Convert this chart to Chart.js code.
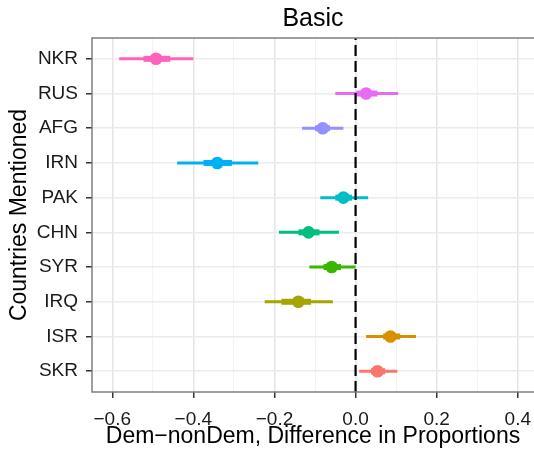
<!DOCTYPE html>
<html>
<head>
<meta charset="utf-8">
<title>Basic</title>
<script src="https://cdn.jsdelivr.net/npm/chart.js@4.4.1/dist/chart.umd.min.js"></script>
<style>
  html, body { margin: 0; padding: 0; overflow: hidden; background: #fff; }
  #wrap { width: 534px; height: 457px; }
</style>
</head>
<body>
<div id="wrap"><canvas id="chart" width="534" height="457"></canvas></div>
<script>
// countries from bottom (y = 1) to top (y = 10)
const countries = ['SKR', 'ISR', 'IRQ', 'SYR', 'CHN', 'PAK', 'IRN', 'AFG', 'RUS', 'NKR'];
const estimates = [0.054, 0.086, -0.141, -0.059, -0.116, -0.030, -0.341, -0.081, 0.026, -0.492];
const lower95 = [0.009, 0.026, -0.224, -0.114, -0.189, -0.087, -0.440, -0.132, -0.050, -0.583];
const upper95 = [0.103, 0.149, -0.056, 0.000, -0.041, 0.031, -0.240, -0.030, 0.105, -0.400];
const lowerInner = [0.038, 0.068, -0.183, -0.079, -0.141, -0.050, -0.375, -0.100, 0.002, -0.523];
const upperInner = [0.073, 0.110, -0.110, -0.036, -0.089, -0.009, -0.305, -0.063, 0.054, -0.457];
const colors = ['#F8766D', '#D89000', '#A3A500', '#39B600', '#00BF7D',
                '#00BFC4', '#00B0F6', '#9590FF', '#E76BF3', '#FF62BC'];

const xTicks = [-0.6, -0.4, -0.2, 0.0, 0.2, 0.4];
const xMinor = [-0.5, -0.3, -0.1, 0.1, 0.3];
const xMin = -0.65, xMax = 0.44;
const yMin = 0.4, yMax = 10.6;
const refLine = 0;

const FONT = "'Liberation Sans', Arial, sans-serif";
const fmt = v => (v < 0 ? '\u2212' : '') + Math.abs(v).toFixed(1);
const isMajor = v => xTicks.some(t => Math.abs(t - v) < 1e-9);

const datasets = [];

datasets.push({
  type: 'line',
  data: [{x: refLine, y: yMin}, {x: refLine, y: yMax}],
  borderColor: '#000',
  borderWidth: 2.2,
  borderDash: [11, 5],
  pointRadius: 0,
  order: 0
});

datasets.push({
  type: 'scatter',
  data: estimates.map((v, i) => ({x: v, y: i + 1})),
  pointRadius: 6.3,
  pointBackgroundColor: colors,
  pointBorderWidth: 0,
  order: 1
});

countries.forEach((c, i) => {
  datasets.push({
    type: 'line',
    data: [{x: lowerInner[i], y: i + 1}, {x: upperInner[i], y: i + 1}],
    borderColor: colors[i],
    borderWidth: 6,
    borderCapStyle: 'butt',
    pointRadius: 0,
    order: 2
  });
  datasets.push({
    type: 'line',
    data: [{x: lower95[i], y: i + 1}, {x: upper95[i], y: i + 1}],
    borderColor: colors[i],
    borderWidth: 3,
    borderCapStyle: 'butt',
    pointRadius: 0,
    order: 3
  });
});

// grey frame around the plotting panel (right side runs past the canvas)
const panelBorder = {
  id: 'panelBorder',
  afterDraw(chart) {
    const {ctx, chartArea: a} = chart;
    ctx.save();
    ctx.strokeStyle = '#7f7f7f';
    ctx.lineWidth = 1.5;
    ctx.beginPath();
    ctx.moveTo(a.right + 5, a.top);
    ctx.lineTo(a.left, a.top);
    ctx.lineTo(a.left, a.bottom);
    ctx.lineTo(a.right + 5, a.bottom);
    ctx.stroke();
    ctx.restore();
  }
};

new Chart(document.getElementById('chart'), {
  type: 'line',
  data: { datasets },
  plugins: [panelBorder],
  options: {
    responsive: false,
    animation: false,
    layout: { padding: 0, autoPadding: false },
    plugins: {
      legend: { display: false },
      tooltip: { enabled: false },
      title: {
        display: true,
        text: 'Basic',
        fullSize: false,
        color: '#000',
        font: { family: FONT, size: 25, weight: 'normal' },
        padding: { top: 4, bottom: 4 }
      }
    },
    scales: {
      x: {
        type: 'linear',
        min: xMin,
        max: xMax,
        afterBuildTicks: s => {
          s.ticks = xTicks.concat(xMinor).sort((a, b) => a - b).map(v => ({value: v}));
        },
        afterFit: s => {
          s.height = 65;
          s.paddingLeft = 0;
          s.paddingRight = 0;
        },
        border: { display: false },
        grid: {
          color: c => isMajor(c.tick.value) ? '#e5e5e5' : '#f3f3f3',
          lineWidth: c => isMajor(c.tick.value) ? 1.5 : 1,
          tickColor: c => isMajor(c.tick.value) ? '#333' : 'rgba(0,0,0,0)',
          tickLength: 6,
          tickWidth: 1.5
        },
        ticks: {
          autoSkip: false,
          maxRotation: 0,
          padding: 10,
          color: '#1a1a1a',
          font: { family: FONT, size: 19 },
          callback: v => isMajor(v) ? fmt(v) : ''
        },
        title: {
          display: true,
          text: 'Dem\u2212nonDem, Difference in Proportions',
          color: '#000',
          font: { family: FONT, size: 23 },
          padding: { top: 0, bottom: 7 }
        }
      },
      y: {
        type: 'linear',
        min: yMin,
        max: yMax,
        afterBuildTicks: s => {
          s.ticks = countries.map((c, i) => ({value: i + 1}));
        },
        afterFit: s => {
          s.width = 92;
          s.paddingTop = 0;
          s.paddingBottom = 0;
        },
        border: { display: false },
        grid: {
          color: '#ebebeb',
          lineWidth: 1.5,
          tickColor: '#333',
          tickLength: 6,
          tickWidth: 1.5
        },
        ticks: {
          autoSkip: false,
          padding: 8,
          color: '#1a1a1a',
          font: { family: FONT, size: 19 },
          callback: v => countries[Math.round(v) - 1]
        },
        title: {
          display: true,
          text: 'Countries Mentioned',
          color: '#000',
          font: { family: FONT, size: 23 },
          padding: { top: 6, bottom: 0 }
        }
      }
    }
  }
});
</script>
</body>
</html>
